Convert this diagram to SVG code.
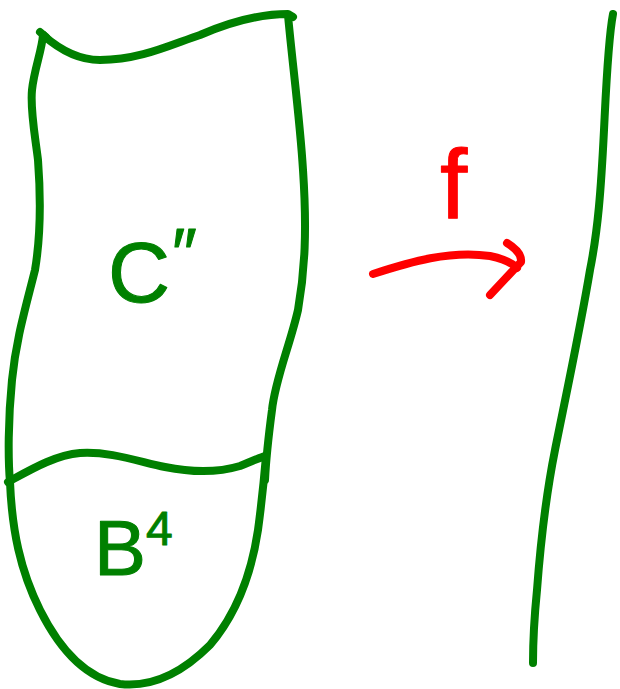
<svg xmlns="http://www.w3.org/2000/svg" width="620" height="689" viewBox="0 0 620 689">
<style>
.g{fill:none;stroke:#008000;stroke-width:8;stroke-linecap:round;stroke-linejoin:round}
.r{fill:none;stroke:#ff0000;stroke-width:8;stroke-linecap:round;stroke-linejoin:round}
.tg{fill:#008000;stroke:#008000;stroke-width:1;stroke-linejoin:round;font-family:"Liberation Sans",Arial,sans-serif}
.tr{fill:#ff0000;stroke:#ff0000;stroke-width:1;stroke-linejoin:round;font-family:"Liberation Sans",Arial,sans-serif}
</style>
<rect width="620" height="689" fill="#ffffff"/>
<g id="C2">
<path class="g" d="M43,35 C60,50 80,60 100,60 C140,60 170,45 200,35 C230,22 260,14 288,14 L293,17"/>
<path class="g" d="M40,32 L46,37"/>
<path class="g" d="M288,15 C292,60 300,120 303,170 C307,230 305,270 298,310 C290,345 275,380 272,410 C268,440 266,460 265,480"/>
<path class="g" d="M43,35 C42,50 34,70 32,90 C30,110 35,135 38,160 C41,200 40,240 35,270 C25,310 16,340 12,380 C8,420 8,460 10,482"/>
<path class="g" d="M8,482 C30,470 55,455 80,453 C110,451 140,462 165,467 C195,473 220,472 240,466 C250,462 258,458 266,456"/>
<text class="tg" x="108" y="302" font-size="86">C<tspan font-size="70" dy="-24" dx="2">″</tspan></text>
</g>
<g id="B4">
<path class="g" d="M10,482 C12,530 20,570 40,610 C60,650 85,678 120,684 C155,688 185,670 210,645 C238,612 252,570 258,530 C262,500 264,480 266,456"/>
<text class="tg" x="94" y="575" font-size="78">B<tspan font-size="48" dy="-30">4</tspan></text>
</g>
<g id="line">
<path class="g" d="M613,14 C608,40 606,90 604,130 C601,190 598,230 590,270 C580,330 565,400 555,450 C545,500 540,550 537,590 C534,620 533,640 533,663"/>
</g>
<g id="connectors">
<path class="r" d="M373,274 C410,262 450,250 490,256 C505,259 512,263 517,268"/>
<path class="r" d="M507,243 C515,248 522,255 521,262 L490,295"/>
<text class="tr" x="440" y="218" font-size="98">f</text>
</g>
</svg>
